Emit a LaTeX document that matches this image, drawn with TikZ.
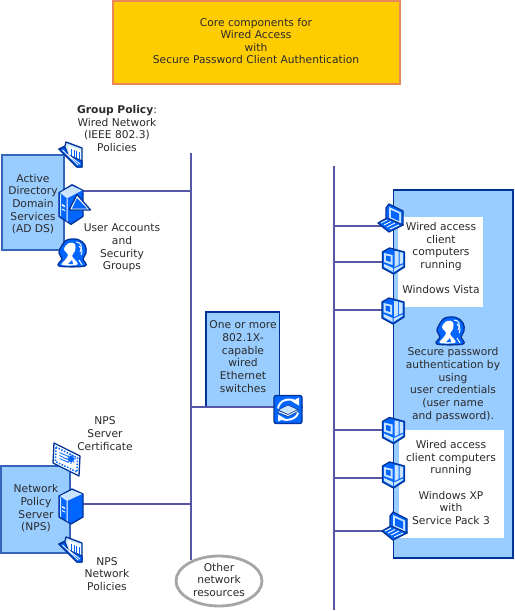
\documentclass[tikz,border=0pt]{standalone}
\usepackage{fontspec}
\setmainfont{DejaVu Sans}
\usetikzlibrary{shapes.geometric}
\definecolor{titlefill}{HTML}{FFCC00}
\definecolor{titleedge}{HTML}{E8885A}
\definecolor{panelfill}{HTML}{99CCFF}
\definecolor{paneledge}{HTML}{003399}
\definecolor{softedge}{HTML}{3366BB}
\definecolor{busblue}{HTML}{5757A8}
\definecolor{iconblue}{HTML}{0066FF}
\definecolor{icondark}{HTML}{003399}
\definecolor{iconpale}{HTML}{CCE5FF}
\definecolor{textgrey}{HTML}{2A2A2A}
\tikzset{
	textlabel/.style={inner sep=0pt, align=center, text=textgrey, font=\fontsize{6.08}{7.2}\selectfont},
	bus/.style={draw=busblue, line width=1.3pt},
	panel/.style={fill=panelfill, draw=paneledge, line width=0.6pt},
	softpanel/.style={fill=panelfill, draw=softedge, line width=1pt},
	iconline/.style={draw=icondark, line width=0.75pt, line join=round},
	iconthin/.style={draw=icondark, line width=0.35pt, line join=round},
}
\def\servericon(#1)[#2]{
	\begin{scope}[shift={(#1)}, yscale=#2]
		\draw[iconline, fill=iconblue] (-13,-10) -- (0,-17) -- (11,-12) -- (11,11) -- (-1,18) -- (-13,11) -- cycle;
		\fill[iconpale] (-12,-10) -- (0,-16) -- (10,-12) -- (-5,-5) -- cycle;
		\fill[white] (-5.5,-4.5) -- (-4.5,-5) -- (-4.5,15.5) -- (-5.5,15) -- cycle;
		\fill[iconpale] (-12,-9) -- (-12,10.5) -- (-11,11) -- (-11,-8.5) -- cycle;
		\fill[white] (-10,0) -- (-7,1.5) -- (-7,3) -- (-10,1.5) -- cycle;
		\fill[white] (-10,4) -- (-7,5.5) -- (-7,6.5) -- (-10,5) -- cycle;
	\end{scope}
}
\def\foldericon(#1){
	\begin{scope}[shift={(#1)}]
		\draw[iconline, fill=iconpale] (-4,-13) -- (12,-7) -- (12,12) -- (7,12) -- (-11,-6) -- (-5,-9) -- cycle;
		\fill[white] (-2,-9.5) -- (10.5,-5) -- (10.5,5) -- (-1,-1) -- cycle;
		\foreach \barx in {1,3.5,6,8.5}
			\fill[iconblue] (\barx,-6+0.3*\barx) rectangle (\barx+1.1,1+0.3*\barx);
		\draw[iconline, fill=iconblue] (-11,-6) -- (-5,-8) -- (-2,0) -- (12,6) -- (12,12) -- (7,12) -- cycle;
		\draw[white, line width=0.45pt] (-7.5,-5) -- (8,10);
		\draw[white, line width=0.45pt] (-3,-1) -- (10,9);
	\end{scope}
}
\def\usersicon(#1){
	\begin{scope}[shift={(#1)}]
		\draw[iconline, fill=iconblue] plot[smooth cycle, tension=0.6] coordinates {(-11,-6) (-5,-13) (6,-13.5) (13,-8) (14,0) (11,6) (13,13) (-13,13) (-10,6) (-13,0)};
		\fill[white] plot[smooth cycle, tension=0.6] coordinates {(-8,-4) (-3,-10) (3,-9) (3,-2) (0,3) (4,8) (5,12) (-10,12) (-7,7) (-4,2)};
		\fill[iconblue] (-4,11) -- (0,7) -- (1,11) -- cycle;
		\draw[white, line width=0.55pt] (4,-11) .. controls (9,-11) and (11,-6) .. (8,-1);
		\draw[white, line width=0.55pt] (7,-7) .. controls (10,-4) and (11,-2) .. (9,2);
		\draw[white, line width=0.55pt] (7,7) -- (10,12);
	\end{scope}
}
\def\laptopicon(#1){
	\begin{scope}[shift={(#1)}]
		\draw[iconline, fill=iconblue] (-5,3) -- (-5,-9) -- (-2,-13) -- (12,-6) -- (12,8) -- (3,6) -- cycle;
		\fill[iconpale] (-2,-10) -- (10,-4.5) -- (10,6.5) -- (-2,1.5) -- cycle;
		\fill[iconblue] (0,-7) -- (8,-3.5) -- (8,4) -- (0,0.5) -- cycle;
		\draw[iconline, fill=iconblue] (-13,6) -- (-4,1) -- (12,8) -- (-2,15) -- cycle;
		\draw[white, line width=0.5pt] (-10,6) -- (-4,3);
		\draw[white, line width=0.5pt] (-7,8) -- (0,4.5);
		\draw[white, line width=0.5pt] (-4,10) -- (4,6);
		\draw[white, line width=0.5pt] (-1,12) -- (8,8);
	\end{scope}
}
\def\desktopicon(#1){
	\begin{scope}[shift={(#1)}]
		\draw[iconline, fill=iconblue] (-11,-9) -- (-4,-13) -- (11,-9) -- (11,6) -- (0,13) -- (-11,7) -- cycle;
		\fill[iconpale] (-9.5,-8) -- (-1,-6) -- (-1,4) -- (-9.5,1) -- cycle;
		\fill[iconblue] (-7.5,-5.5) -- (-3,-4.5) -- (-3,1) -- (-7.5,-0.5) -- cycle;
		\fill[iconpale] (1,-10) -- (5,-9.5) -- (5,4) -- (1,6) -- cycle;
		\fill[iconpale] (6,-9) -- (9.5,-8) -- (9.5,2) -- (6,3.5) -- cycle;
		\fill[iconpale] (-9.5,3) -- (-0.5,7) -- (-0.5,11) -- (-9.5,6) -- cycle;
		\fill[iconpale] (0.5,7.5) -- (9.5,3.5) -- (9.5,5) -- (0.5,11) -- cycle;
	\end{scope}
}
\def\certicon(#1){
	\begin{scope}[shift={(#1)}]
		\draw[iconline, fill=white] (-12.5,-16.5) -- (13.5,-3.5) -- (12.5,16.5) -- (-13.5,3.5) -- cycle;
		\draw[iconblue, line width=0.9pt, dash pattern=on 0.8pt off 0.9pt] (-10.5,-12.5) -- (11,-1.5) -- (10.5,12.5) -- (-11,2) -- cycle;
		\draw[iconblue, line width=0.45pt] (-7,-7) -- (2,-3);
		\draw[iconblue, line width=0.45pt] (-7,-4) -- (0,-0.5);
		\draw[iconblue, line width=0.45pt] (-7,-1) -- (2,3);
		\fill[iconblue] (4.5,-0.5) circle (3.2);
		\foreach \ang in {0,45,...,315}
			\fill[iconblue] (4.5,-0.5) ++(\ang:4) circle (0.8);
	\end{scope}
}
\def\switchicon(#1){
	\begin{scope}[shift={(#1)}]
		\draw[iconline, fill=iconblue, rounded corners=1.2pt] (-14,-14) rectangle (14,14);
		\draw[white, line width=1.1pt] (-10,-1) .. controls (-9,-10) and (2,-12) .. (8,-8);
		\fill[white] (11,-12) -- (11,-4) -- (4,-8) -- cycle;
		\draw[white, line width=1.1pt] (10,3) .. controls (9,10) and (-2,12) .. (-7,9);
		\fill[white] (-10,12) -- (-10,5) -- (-3,9) -- cycle;
		\draw[iconthin, fill=white] (-10,1) -- (0,4.5) -- (10,0) -- (10,2) -- (0,7) -- (-10,3) -- cycle;
		\draw[iconthin, fill=iconpale] (-10,0.5) -- (0,-4.5) -- (10,0) -- (0,5) -- cycle;
	\end{scope}
}

\begin{document}
\begin{tikzpicture}[x=0.02cm, y=-0.02cm]
	%%%%% START %%%%%
	\useasboundingbox (0,0) rectangle (514,611);
	
	\draw[fill=titlefill, draw=titleedge, line width=0.8pt] (113,1) rectangle (400,84);
	\node[textlabel] (titletext) at (256,41) {Core components for\\Wired Access\\with\\Secure Password Client Authentication};
	
	% boxes
	\draw[softpanel] (2,155) rectangle (64,250);
	\draw[softpanel] (1,466) rectangle (70,553);
	\draw[panel] (206,312) rectangle (279.5,407);
	\draw[panel] (393.5,190) rectangle (513,558);
	\fill[white] (398,217) rectangle (483,307);
	\fill[white] (399,430) rectangle (504,538);
	
	% buses
	\coordinate (lefttop) at (191,153);
	\coordinate (leftend) at (191,560);
	\coordinate (righttop) at (334,166);
	\coordinate (rightend) at (334,610);
	\draw[bus] (lefttop) -- (leftend);
	\draw[bus] (righttop) -- (rightend);
	
	% connector ends
	\coordinate (adsrv) at (80,191);
	\coordinate (nps) at (80,504);
	\coordinate (swt) at (303,407);
	\coordinate (adbus) at (191,191);
	\coordinate (npsbus) at (191,504);
	\coordinate (swtbus) at (191,407);
	\coordinate (cli1) at (385,226);
	\coordinate (cli2) at (388,262);
	\coordinate (cli3) at (388,310);
	\coordinate (cli4) at (388,430);
	\coordinate (cli5) at (388,478);
	\coordinate (cli6) at (388,531);
	\coordinate (clibus1) at (334,226);
	\coordinate (clibus2) at (334,262);
	\coordinate (clibus3) at (334,310);
	\coordinate (clibus4) at (334,430);
	\coordinate (clibus5) at (334,478);
	\coordinate (clibus6) at (334,531);
	
	\draw[bus] (adsrv) -- (adbus);
	\draw[bus] (nps) -- (npsbus);
	\draw[bus] (swt) -- (swtbus);
	\foreach \n in {1,...,6}
		\draw[bus] (cli\n) -- (clibus\n);
	
	% other resources
	\node[draw=black!35, fill=white, line width=1.6pt, ellipse, minimum width=1.72cm, minimum height=1cm, inner sep=0pt] (other) at (219,581) {};
	\node[textlabel] (othertext) at (219,580) {Other\\network\\resources};
	
	% icons
	\foldericon(70,155)
	\servericon(72,204)[1.13]
	\draw[iconline, fill=white] (77,194.5) -- (90.5,210) -- (69,210) -- cycle;
	\fill[iconblue] (77,198) -- (87,208.5) -- (72,208.5) -- cycle;
	\usersicon(72,253)
	
	\certicon(66.5,459.5)
	\servericon(72,506)[1]
	\foldericon(70,550)
	
	\switchicon(288,409.5)
	
	\laptopicon(391,217)
	\desktopicon(393.5,261)
	\desktopicon(393,311)
	\desktopicon(393.5,430.5)
	\desktopicon(393.5,475)
	\laptopicon(395,525)
	\usersicon(450,331)
	
	% texts
	\node[textlabel] (policytext) at (117,128.5) {\textbf{Group Policy}:\\Wired Network\\(IEEE 802.3)\\Policies};
	\node[textlabel] (adtext) at (33,204) {Active\\Directory\\Domain\\Services\\(AD DS)};
	\node[textlabel] (userstext) at (122,248) {User Accounts\\and\\Security\\Groups};
	\node[textlabel] (certtext) at (105,433.5) {NPS\\Server\\Certificate};
	\node[textlabel] (npstext) at (36,508.5) {Network\\Policy\\Server\\(NPS)};
	\node[textlabel] (npspoltext) at (107,574) {NPS\\Network\\Policies};
	\node[textlabel] (swttext) at (243,356.5) {One or more\\802.1X-\\capable\\wired\\Ethernet\\switches};
	\node[textlabel] (vistatext) at (441,258) {Wired access\\client\\computers\\running\\\mbox{}\\Windows Vista};
	\node[textlabel] (pwdtext) at (453,384.5) {Secure password\\authentication by\\using\\user credentials\\(user name\\and password).};
	\node[textlabel] (xptext) at (451,482.5) {Wired access\\client computers\\running\\\mbox{}\\Windows XP\\with\\Service Pack 3};
	
	%%%%% END %%%%%
\end{tikzpicture}
\end{document}
